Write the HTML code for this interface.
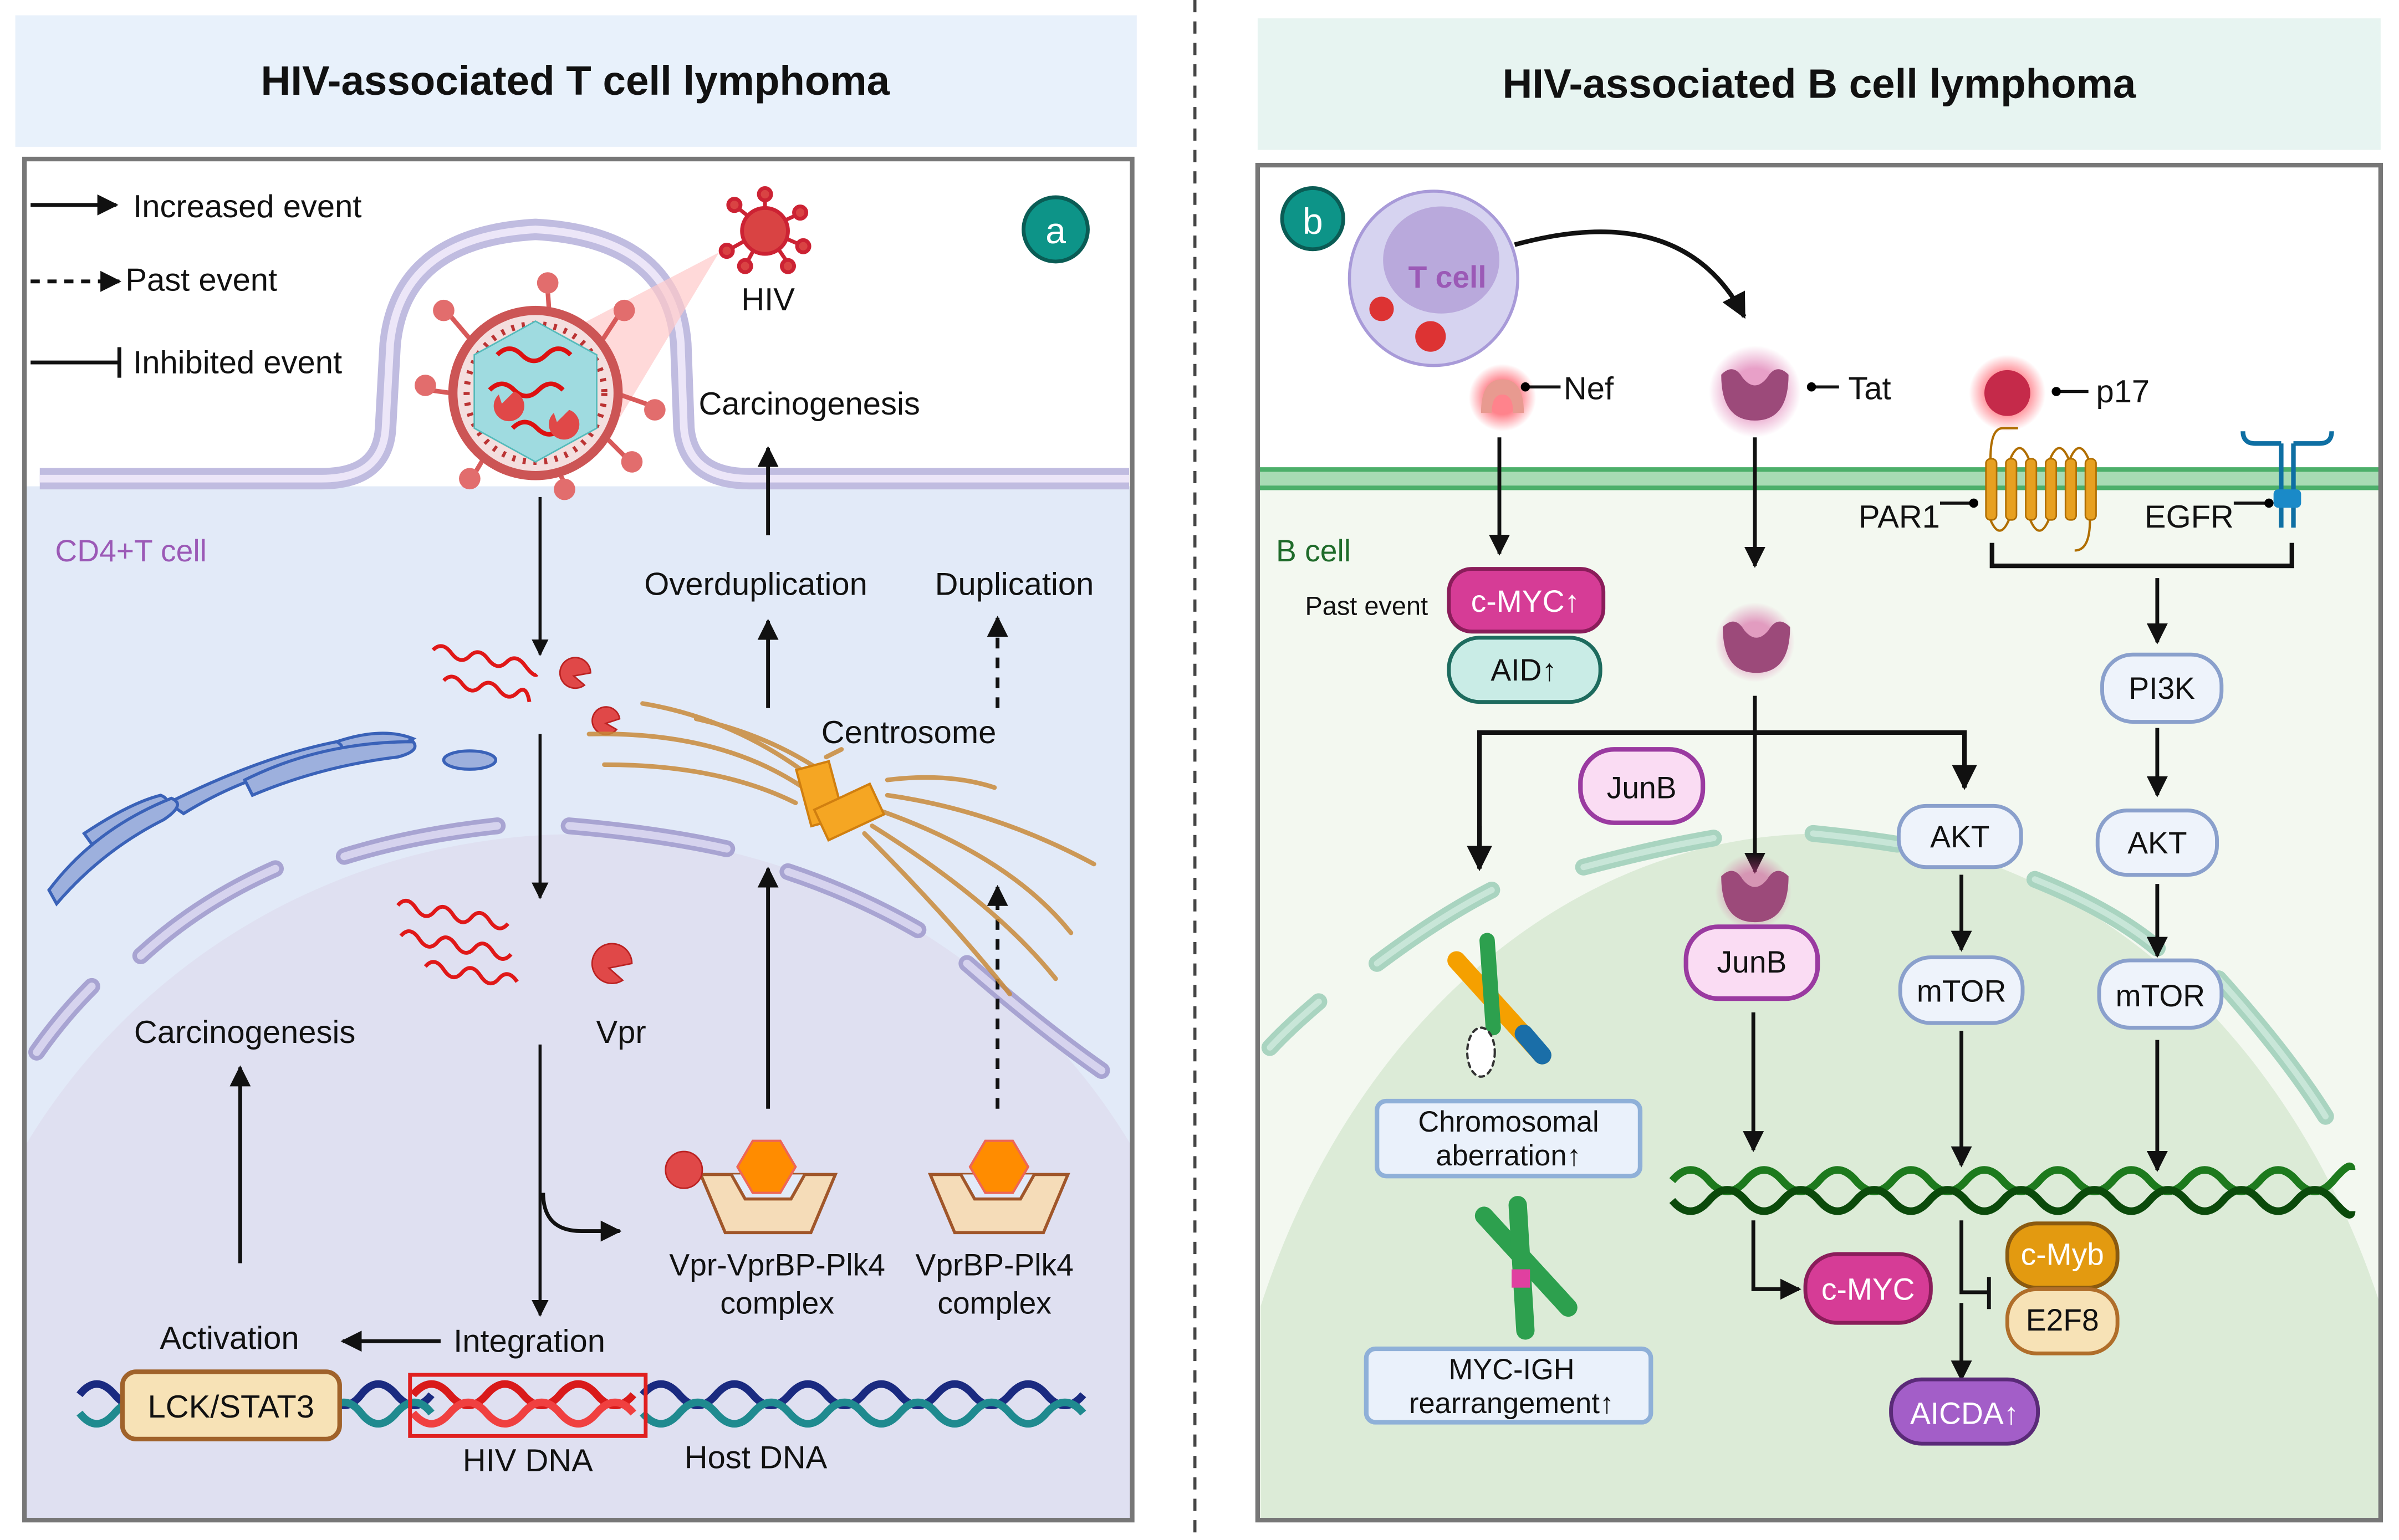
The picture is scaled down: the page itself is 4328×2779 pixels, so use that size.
<!DOCTYPE html>
<html><head><meta charset="utf-8"><style>
html,body{margin:0;padding:0;background:#fff;width:4328px;height:2779px;overflow:hidden}
svg{display:block}
text{font-family:"Liberation Sans",Arial,sans-serif;fill:#111}
</style></head><body>
<svg width="4328" height="2779" viewBox="0 0 1568 1007" preserveAspectRatio="none" xmlns="http://www.w3.org/2000/svg">
<defs>
<marker id="ah" viewBox="0 0 10 10" refX="9" refY="5" markerWidth="5.5" markerHeight="5.5" orient="auto"><path d="M0,0 L10,5 L0,10 z" fill="#111"/></marker>
<radialGradient id="glowR"><stop offset="0.5" stop-color="#ff3040" stop-opacity="0.6"/><stop offset="1" stop-color="#ff3040" stop-opacity="0"/></radialGradient>
<radialGradient id="glowP"><stop offset="0.5" stop-color="#d04090" stop-opacity="0.5"/><stop offset="1" stop-color="#d04090" stop-opacity="0"/></radialGradient>
</defs>

<!-- ================= LEFT PANEL ================= -->
<rect x="10" y="10" width="733" height="86" fill="#e8f1fb"/>
<text x="376" y="62" font-size="27" font-weight="bold" text-anchor="middle">HIV-associated T cell lymphoma</text>

<rect x="16" y="104" width="724" height="890" fill="#fff"/>
<rect x="16" y="318" width="724" height="676" fill="#e2eaf8"/>
<path d="M16,994 L16,750 A420,415 0 0 1 740,750 L740,994 Z" fill="#dfe0f1"/>
<g fill="none" stroke="#a8a4d2" stroke-width="11" stroke-linecap="round">
<path d="M24,688 Q40,665 60,645" /><path d="M92,625 Q130,590 180,568"/>
<path d="M225,560 Q270,546 325,540"/><path d="M372,540 Q430,545 475,555"/>
<path d="M515,570 Q560,585 600,608"/><path d="M632,630 Q680,672 720,700"/>
</g>
<g fill="none" stroke="#d6d3ee" stroke-width="5" stroke-linecap="round">
<path d="M24,688 Q40,665 60,645" /><path d="M92,625 Q130,590 180,568"/>
<path d="M225,560 Q270,546 325,540"/><path d="M372,540 Q430,545 475,555"/>
<path d="M515,570 Q560,585 600,608"/><path d="M632,630 Q680,672 720,700"/>
</g>
<path d="M26,313 L210,313 Q250,313 252,280 L255,225 Q262,155 350,150 Q440,155 445,225 L447,280 Q450,313 490,313 L738,313" fill="none" stroke="#c0bce0" stroke-width="14"/>
<path d="M26,313 L210,313 Q250,313 252,280 L255,225 Q262,155 350,150 Q440,155 445,225 L447,280 Q450,313 490,313 L738,313" fill="none" stroke="#ece6f8" stroke-width="5"/>
<rect x="16" y="104" width="724" height="890" fill="none" stroke="#777" stroke-width="3"/>

<!-- legend -->
<line x1="20" y1="134" x2="76" y2="134" stroke="#111" stroke-width="2.5" marker-end="url(#ah)"/>
<text x="87" y="142" font-size="21">Increased event</text>
<line x1="20" y1="184" x2="78" y2="184" stroke="#111" stroke-width="2.5" stroke-dasharray="6,5" marker-end="url(#ah)"/>
<text x="82" y="190" font-size="21">Past event</text>
<line x1="20" y1="237" x2="78" y2="237" stroke="#111" stroke-width="2.5"/>
<line x1="78" y1="227" x2="78" y2="247" stroke="#111" stroke-width="2.5"/>
<text x="87" y="244" font-size="21">Inhibited event</text>
<circle cx="690" cy="150" r="21" fill="#0d9488" stroke="#0a5c55" stroke-width="2.5"/>
<text x="690" y="159" font-size="24" text-anchor="middle" style="fill:#fff">a</text>

<path d="M355,225 L470,165 L395,290 z" fill="#ffc9c9" opacity="0.7"/>
<g>
<g stroke="#d85a5a" stroke-width="3">
<line x1="358" y1="190" x2="360" y2="220"/><line x1="405" y1="205" x2="392" y2="225"/>
<line x1="425" y1="265" x2="405" y2="258"/><line x1="410" y1="300" x2="395" y2="285"/>
<line x1="370" y1="318" x2="360" y2="298"/><line x1="310" y1="310" x2="322" y2="290"/>
<line x1="280" y1="255" x2="302" y2="258"/><line x1="293" y1="205" x2="310" y2="225"/>
</g>
<g fill="#e26d6d"><circle cx="358" cy="185" r="7"/><circle cx="408" cy="203" r="7"/><circle cx="428" cy="268" r="7"/><circle cx="413" cy="302" r="7"/><circle cx="369" cy="320" r="7"/><circle cx="307" cy="313" r="7"/><circle cx="278" cy="252" r="7"/><circle cx="290" cy="203" r="7"/></g>
<circle cx="350" cy="257" r="57" fill="#c55" />
<circle cx="350" cy="257" r="51" fill="#f4dede"/>
<circle cx="350" cy="257" r="45" fill="none" stroke="#b33" stroke-width="4" stroke-dasharray="2,5"/>
<polygon points="350,210 390,232 390,280 350,302 310,280 310,232" fill="#9fdbe0" stroke="#5bb" stroke-width="1"/>
<path d="M325,232 q8,-8 16,0 t16,0 t16,0 M320,255 q8,-8 16,0 t16,0 t16,0 M335,280 q8,-8 16,0 t16,0" fill="none" stroke="#d11" stroke-width="3"/>
<path d="M326,258 a10,10 0 1 0 10,-2 l-8,8 z" fill="#e04848"/>
<path d="M362,270 a10,10 0 1 0 10,-2 l-8,8 z" fill="#e04848"/>
</g>
<g fill="#d94343" stroke="#c23" stroke-width="2.5">
<line x1="500" y1="150" x2="500" y2="128"/><line x1="500" y1="150" x2="522" y2="140"/><line x1="500" y1="150" x2="523" y2="160"/><line x1="500" y1="150" x2="515" y2="172"/><line x1="500" y1="150" x2="488" y2="172"/><line x1="500" y1="150" x2="477" y2="163"/><line x1="500" y1="150" x2="481" y2="135"/>
<circle cx="500" cy="127" r="4"/><circle cx="523" cy="139" r="4"/><circle cx="525" cy="161" r="4"/><circle cx="515" cy="174" r="4"/><circle cx="487" cy="174" r="4"/><circle cx="475" cy="164" r="4"/><circle cx="480" cy="134" r="4"/>
<circle cx="500" cy="151" r="15"/>
</g>
<text x="502" y="203" font-size="21" text-anchor="middle">HIV</text>
<text x="529" y="271" font-size="21" text-anchor="middle">Carcinogenesis</text>
<text x="36" y="367" font-size="20" style="fill:#9b59b6">CD4+T cell</text>
<text x="494" y="389" font-size="21" text-anchor="middle">Overduplication</text>
<text x="663" y="389" font-size="21" text-anchor="middle">Duplication</text>
<text x="594" y="486" font-size="21" text-anchor="middle">Centrosome</text>

<line x1="502" y1="350" x2="502" y2="293" stroke="#111" stroke-width="2.5" marker-end="url(#ah)"/>
<line x1="502" y1="463" x2="502" y2="406" stroke="#111" stroke-width="2.5" marker-end="url(#ah)"/>
<line x1="652" y1="463" x2="652" y2="404" stroke="#111" stroke-width="2.5" stroke-dasharray="7,6" marker-end="url(#ah)"/>
<line x1="353" y1="325" x2="353" y2="428" stroke="#111" stroke-width="2" marker-end="url(#ah)"/>
<line x1="353" y1="480" x2="353" y2="587" stroke="#111" stroke-width="2" marker-end="url(#ah)"/>
<line x1="353" y1="683" x2="353" y2="860" stroke="#111" stroke-width="2" marker-end="url(#ah)"/>
<path d="M355,780 Q355,805 380,805 L405,805" fill="none" stroke="#111" stroke-width="2.5" marker-end="url(#ah)"/>
<line x1="502" y1="725" x2="502" y2="568" stroke="#111" stroke-width="2.5" marker-end="url(#ah)"/>
<line x1="652" y1="725" x2="652" y2="580" stroke="#111" stroke-width="2.5" stroke-dasharray="7,6" marker-end="url(#ah)"/>
<line x1="157" y1="826" x2="157" y2="698" stroke="#111" stroke-width="2.5" marker-end="url(#ah)"/>
<line x1="288" y1="877" x2="224" y2="877" stroke="#111" stroke-width="2.5" marker-end="url(#ah)"/>

<g fill="none" stroke="#e01818" stroke-width="2.5">
<path d="M283,425 q6,-6 12,2 t12,2 t12,2 t12,2 t12,2 t8,6"/>
<path d="M290,445 q6,-6 12,2 t12,2 t12,2 t12,2 t8,6"/>
<path d="M260,592 q6,-7 12,2 t12,2 t12,2 t12,2 t12,2 t12,2"/>
<path d="M262,612 q6,-7 12,2 t12,2 t12,2 t12,2 t12,2 t12,2"/>
<path d="M278,632 q6,-7 12,2 t12,2 t12,2 t12,2 t12,2"/>
</g>
<g fill="#e04848" stroke="#b22" stroke-width="1">
<path d="M386,440 a10,10 0 1 0 -4,8 l-7,-6 z"/><path d="M405,470 a9,9 0 1 0 -2,7 l-7,-4 z"/>
<path d="M413,630 a13,13 0 1 0 -6,11 l-9,-8 z"/>
</g>
<text x="406" y="682" font-size="21" text-anchor="middle">Vpr</text>
<text x="160" y="682" font-size="21" text-anchor="middle">Carcinogenesis</text>

<g fill="#9db0dd" stroke="#3a62b8" stroke-width="2">
<ellipse cx="307" cy="497" rx="17" ry="6"/>
<path d="M220,485 q30,-10 50,-2 q-20,12 -50,12 z"/>
<path d="M110,525 q60,-30 110,-40 q10,5 -10,12 q-50,10 -90,35 z"/>
<path d="M55,545 q30,-20 50,-25 q10,4 -5,12 q-20,8 -40,20 z"/>
<path d="M32,582 q30,-40 80,-60 q10,4 -5,14 q-40,20 -70,55 z"/>
<path d="M160,510 q50,-25 110,-25 q5,6 -10,10 q-50,6 -95,25 z"/>
</g>

<g fill="none" stroke="#c98a3a" stroke-width="3" stroke-linecap="round" opacity="0.85">
<path d="M420,460 Q480,470 530,508"/><path d="M385,480 Q470,478 525,515"/><path d="M395,500 Q470,500 520,525"/>
<path d="M455,470 Q500,480 535,503"/><path d="M540,495 L550,490"/>
<path d="M580,520 Q650,530 715,565"/><path d="M575,530 Q660,560 700,610"/><path d="M570,540 Q650,590 690,640"/><path d="M565,545 Q620,600 660,650"/>
<path d="M580,510 Q620,505 650,515"/>
</g>
<g fill="#f5a623" stroke="#d07f10" stroke-width="1.5">
<rect x="525" y="500" width="22" height="38" transform="rotate(-15 536 519)"/>
<rect x="535" y="520" width="40" height="22" transform="rotate(-25 555 531)"/>
</g>

<g>
<path d="M458,768 L546,768 L530,806 L474,806 z" fill="#f5dcb8" stroke="#a0562a" stroke-width="2"/>
<path d="M478,768 L487,784 L517,784 L526,768" fill="#e2eaf8" stroke="#a0562a" stroke-width="2"/>
<polygon points="492,746 510,746 520,763 510,780 492,780 482,763" fill="#ff8c00" stroke="#e65" stroke-width="1.5"/>
<circle cx="447" cy="765" r="12" fill="#e04848" stroke="#b22"/>
<path d="M608,768 L698,768 L682,806 L624,806 z" fill="#f5dcb8" stroke="#a0562a" stroke-width="2"/>
<path d="M628,768 L637,784 L667,784 L676,768" fill="#e2eaf8" stroke="#a0562a" stroke-width="2"/>
<polygon points="644,746 662,746 672,763 662,780 644,780 634,763" fill="#ff8c00" stroke="#e65" stroke-width="1.5"/>
</g>
<text x="508" y="834" font-size="20" text-anchor="middle">Vpr-VprBP-Plk4</text>
<text x="508" y="859" font-size="20" text-anchor="middle">complex</text>
<text x="650" y="834" font-size="20" text-anchor="middle">VprBP-Plk4</text>
<text x="650" y="859" font-size="20" text-anchor="middle">complex</text>
<text x="150" y="882" font-size="21" text-anchor="middle">Activation</text>
<text x="346" y="884" font-size="21" text-anchor="middle">Integration</text>

<g fill="none" stroke-width="5">
<path d="M52,912 q11,-14 23,0 t23,0 t23,0 t23,0 t23,0 t23,0 t23,0 t23,0 t23,0 t23,0" stroke="#1a2a80"/>
<path d="M52,924 q11,14 23,0 t23,0 t23,0 t23,0 t23,0 t23,0 t23,0 t23,0 t23,0 t23,0" stroke="#1f8a8f"/>
<path d="M270,912 q12,-14 24,0 t24,0 t24,0 t24,0 t24,0 t24,0" stroke="#d91a1a"/>
<path d="M270,924 q12,14 24,0 t24,0 t24,0 t24,0 t24,0 t24,0" stroke="#f04040"/>
<path d="M420,912 q12,-14 24,0 t24,0 t24,0 t24,0 t24,0 t24,0 t24,0 t24,0 t24,0 t24,0 t24,0 t24,0" stroke="#1a2a80"/>
<path d="M420,924 q12,14 24,0 t24,0 t24,0 t24,0 t24,0 t24,0 t24,0 t24,0 t24,0 t24,0 t24,0 t24,0" stroke="#1f8a8f"/>
</g>
<rect x="268" y="899" width="154" height="40" fill="none" stroke="#e02020" stroke-width="2.5"/>
<rect x="80" y="897" width="142" height="44" rx="9" fill="#f7e2b6" stroke="#a0622a" stroke-width="3"/>
<text x="151" y="927" font-size="21" text-anchor="middle">LCK/STAT3</text>
<text x="345" y="962" font-size="21" text-anchor="middle">HIV DNA</text>
<text x="494" y="960" font-size="21" text-anchor="middle">Host DNA</text>

<line x1="781" y1="0" x2="781" y2="1006" stroke="#444" stroke-width="2" stroke-dasharray="8,6"/>

<!-- ================= RIGHT PANEL ================= -->
<rect x="822" y="12" width="734" height="86" fill="#e7f4f1"/>
<text x="1189" y="64" font-size="27" font-weight="bold" text-anchor="middle">HIV-associated B cell lymphoma</text>
<rect x="822" y="108" width="734" height="886" fill="#fff"/>
<rect x="822" y="318" width="734" height="676" fill="#f3f8f0"/>
<path d="M824,994 L824,854 A395,495 0 0 1 1556,854 L1556,994 Z" fill="#dcebd7"/>
<g fill="none" stroke="#a9d4c0" stroke-width="11" stroke-linecap="round">
<path d="M830,685 Q842,672 862,655"/><path d="M900,630 Q940,600 975,582"/>
<path d="M1035,567 Q1080,555 1120,548"/><path d="M1185,545 Q1215,548 1240,552"/>
<path d="M1330,575 Q1380,595 1410,620"/><path d="M1450,640 Q1495,690 1520,730"/>
</g>
<g fill="none" stroke="#c8e6d8" stroke-width="4" stroke-linecap="round">
<path d="M830,685 Q842,672 862,655"/><path d="M900,630 Q940,600 975,582"/>
<path d="M1035,567 Q1080,555 1120,548"/><path d="M1185,545 Q1215,548 1240,552"/>
<path d="M1330,575 Q1380,595 1410,620"/><path d="M1450,640 Q1495,690 1520,730"/>
</g>
<rect x="822" y="306" width="734" height="14" fill="#a8dbb4"/>
<line x1="822" y1="307" x2="1556" y2="307" stroke="#4caf6a" stroke-width="3"/>
<line x1="822" y1="319" x2="1556" y2="319" stroke="#4caf6a" stroke-width="3"/>
<rect x="822" y="108" width="734" height="886" fill="none" stroke="#777" stroke-width="3"/>

<circle cx="858" cy="143" r="20" fill="#0d9488" stroke="#0a5c55" stroke-width="2.5"/>
<text x="858" y="153" font-size="24" text-anchor="middle" style="fill:#fff">b</text>
<ellipse cx="937" cy="182" rx="55" ry="57" fill="#d6d3f0" stroke="#a89ad8" stroke-width="2"/>
<ellipse cx="942" cy="170" rx="38" ry="35" fill="#b9a9dc"/>
<text x="946" y="188" font-size="20" font-weight="bold" text-anchor="middle" style="fill:#9b59b6">T cell</text>
<circle cx="903" cy="202" r="8" fill="#d33"/><circle cx="935" cy="220" r="10" fill="#d33"/>
<path d="M990,160 Q1100,130 1140,207" fill="none" stroke="#111" stroke-width="3" marker-end="url(#ah)"/>

<circle cx="982" cy="260" r="22" fill="url(#glowR)"/>
<path d="M968,270 q0,-22 14,-22 q14,0 14,22 l-7,0 q0,-12 -7,-12 q-7,0 -7,12 z" fill="#e89a90"/>
<line x1="997" y1="253" x2="1020" y2="253" stroke="#111" stroke-width="2"/><circle cx="997" cy="253" r="3"/>
<text x="1022" y="261" font-size="21">Nef</text>
<circle cx="1147" cy="256" r="30" fill="url(#glowP)"/>
<path d="M1125,245 q0,30 22,30 q22,0 22,-30 q-8,-8 -14,2 q-8,10 -16,0 q-6,-10 -14,-2 z" fill="#9c4a7a"/>
<line x1="1184" y1="253" x2="1202" y2="253" stroke="#111" stroke-width="2"/><circle cx="1184" cy="253" r="3"/>
<text x="1208" y="261" font-size="21">Tat</text>
<circle cx="1312" cy="257" r="25" fill="url(#glowR)"/>
<circle cx="1312" cy="257" r="15" fill="#c52a4a"/>
<line x1="1344" y1="256" x2="1365" y2="256" stroke="#111" stroke-width="2"/><circle cx="1344" cy="256" r="3"/>
<text x="1370" y="263" font-size="21">p17</text>

<g fill="#e7a020" stroke="#b06e00" stroke-width="1">
<rect x="1298" y="300" width="7" height="40" rx="3"/><rect x="1311" y="300" width="7" height="40" rx="3"/><rect x="1324" y="300" width="7" height="40" rx="3"/><rect x="1337" y="300" width="7" height="40" rx="3"/><rect x="1350" y="300" width="7" height="40" rx="3"/><rect x="1363" y="300" width="7" height="40" rx="3"/>
</g>
<path d="M1301,300 q0,-20 8,-20 l10,0 M1314,300 q6,-14 12,0 M1340,300 q6,-14 12,0 M1353,300 q6,-14 12,0 M1301,340 q6,14 12,0 M1327,340 q6,14 12,0 M1366,340 q0,20 -10,20" fill="none" stroke="#b06e00" stroke-width="1.5"/>
<g stroke="#0e6fa3" stroke-width="3" fill="none">
<line x1="1491" y1="290" x2="1491" y2="345"/><line x1="1499" y1="290" x2="1499" y2="345"/>
<path d="M1466,282 q0,8 8,8 l17,0 M1499,290 l17,0 q8,0 8,-8"/>
</g>
<rect x="1486" y="320" width="18" height="12" rx="3" fill="#1a8ac8"/>
<text x="1268" y="345" font-size="21" text-anchor="end">PAR1</text>
<line x1="1268" y1="329" x2="1290" y2="329" stroke="#111" stroke-width="2"/><circle cx="1290" cy="329" r="3"/>
<text x="1460" y="345" font-size="21" text-anchor="end">EGFR</text>
<line x1="1460" y1="329" x2="1483" y2="329" stroke="#111" stroke-width="2"/><circle cx="1483" cy="329" r="3"/>
<path d="M1302,355 L1302,370 L1498,370 L1498,355" fill="none" stroke="#111" stroke-width="3"/>

<text x="834" y="367" font-size="20" style="fill:#1f6b2a">B cell</text>
<text x="853" y="402" font-size="17">Past event</text>
<rect x="947" y="372" width="101" height="41" rx="15" fill="#d63c96" stroke="#8a1d5a" stroke-width="2.5"/>
<text x="997" y="400" font-size="20" text-anchor="middle" style="fill:#fff">c-MYC↑</text>
<rect x="947" y="417" width="99" height="42" rx="20" fill="#c9ece6" stroke="#1d6b5e" stroke-width="2.5"/>
<text x="996" y="445" font-size="20" text-anchor="middle">AID↑</text>

<line x1="980" y1="286" x2="980" y2="362" stroke="#111" stroke-width="2.5" marker-end="url(#ah)"/>
<line x1="1147" y1="286" x2="1147" y2="370" stroke="#111" stroke-width="2.5" marker-end="url(#ah)"/>
<circle cx="1147" cy="420" r="26" fill="url(#glowP)"/>
<path d="M1126,410 q0,30 22,30 q22,0 22,-30 q-8,-8 -14,2 q-8,10 -16,0 q-6,-10 -14,-2 z" fill="#9c4a7a"/>
<line x1="1147" y1="455" x2="1147" y2="570" stroke="#111" stroke-width="2.5" marker-end="url(#ah)"/>
<path d="M967,565 L967,479 L1284,479 L1284,515" fill="none" stroke="#111" stroke-width="3" marker-end="url(#ah)"/>
<line x1="967" y1="540" x2="967" y2="568" stroke="#111" stroke-width="3" marker-end="url(#ah)"/>
<line x1="1410" y1="378" x2="1410" y2="420" stroke="#111" stroke-width="2.5" marker-end="url(#ah)"/>
<line x1="1410" y1="476" x2="1410" y2="520" stroke="#111" stroke-width="2.5" marker-end="url(#ah)"/>
<line x1="1410" y1="578" x2="1410" y2="625" stroke="#111" stroke-width="2.5" marker-end="url(#ah)"/>
<line x1="1410" y1="680" x2="1410" y2="765" stroke="#111" stroke-width="2.5" marker-end="url(#ah)"/>
<line x1="1282" y1="572" x2="1282" y2="621" stroke="#111" stroke-width="2.5" marker-end="url(#ah)"/>
<line x1="1282" y1="674" x2="1282" y2="762" stroke="#111" stroke-width="2.5" marker-end="url(#ah)"/>
<line x1="1146" y1="662" x2="1146" y2="752" stroke="#111" stroke-width="2.5" marker-end="url(#ah)"/>
<path d="M1146,798 L1146,843 L1176,843" fill="none" stroke="#111" stroke-width="2.5" marker-end="url(#ah)"/>
<path d="M1282,798 L1282,845 L1300,845" fill="none" stroke="#111" stroke-width="2.5"/>
<line x1="1300" y1="835" x2="1300" y2="856" stroke="#111" stroke-width="2.5"/>
<line x1="1282" y1="852" x2="1282" y2="902" stroke="#111" stroke-width="2.5" marker-end="url(#ah)"/>

<rect x="1033" y="490" width="80" height="48" rx="22" fill="#fadcf3" stroke="#9a3aa0" stroke-width="3"/>
<text x="1073" y="522" font-size="20" text-anchor="middle">JunB</text>
<circle cx="1146" cy="583" r="25" fill="url(#glowP)"/>
<path d="M1125,573 q0,30 22,30 q22,0 22,-30 q-8,-8 -14,2 q-8,10 -16,0 q-6,-10 -14,-2 z" fill="#9c4a7a"/>
<rect x="1102" y="606" width="86" height="47" rx="21" fill="#fadcf3" stroke="#9a3aa0" stroke-width="3"/>
<text x="1145" y="636" font-size="20" text-anchor="middle">JunB</text>
<g fill="#eef3fb" stroke="#8aa0cc" stroke-width="2.5">
<rect x="1241" y="527" width="80" height="40" rx="18"/>
<rect x="1242" y="626" width="80" height="43" rx="20"/>
<rect x="1374" y="428" width="78" height="44" rx="20"/>
<rect x="1371" y="530" width="78" height="42" rx="19"/>
<rect x="1372" y="628" width="80" height="44" rx="20"/>
</g>
<text x="1281" y="554" font-size="20" text-anchor="middle">AKT</text>
<text x="1282" y="655" font-size="20" text-anchor="middle">mTOR</text>
<text x="1413" y="457" font-size="20" text-anchor="middle">PI3K</text>
<text x="1410" y="558" font-size="20" text-anchor="middle">AKT</text>
<text x="1412" y="658" font-size="20" text-anchor="middle">mTOR</text>

<g fill="none" stroke-width="5">
<path d="M1093,772 q12,-14 24,0 t24,0 t24,0 t24,0 t24,0 t24,0 t24,0 t24,0 t24,0 t24,0 t24,0 t24,0 t24,0 t24,0 t24,0 t24,0 t24,0 t24,0 t12,-7" stroke="#1d7a1d"/>
<path d="M1093,785 q12,14 24,0 t24,0 t24,0 t24,0 t24,0 t24,0 t24,0 t24,0 t24,0 t24,0 t24,0 t24,0 t24,0 t24,0 t24,0 t24,0 t24,0 t24,0 t12,7" stroke="#0b4a0b"/>
</g>

<rect x="1180" y="820" width="82" height="45" rx="21" fill="#d63c96" stroke="#8a1d5a" stroke-width="2.5"/>
<text x="1221" y="850" font-size="20" text-anchor="middle" style="fill:#fff">c-MYC</text>
<rect x="1312" y="800" width="72" height="42" rx="19" fill="#e39a10" stroke="#8a5a10" stroke-width="2.5"/>
<text x="1348" y="827" font-size="20" text-anchor="middle" style="fill:#fff">c-Myb</text>
<rect x="1312" y="843" width="72" height="42" rx="19" fill="#f7e2b6" stroke="#b06e2a" stroke-width="2.5"/>
<text x="1348" y="870" font-size="20" text-anchor="middle">E2F8</text>
<rect x="1236" y="902" width="96" height="42" rx="20" fill="#a35ec8" stroke="#5a2a78" stroke-width="2.5"/>
<text x="1284" y="931" font-size="20" text-anchor="middle" style="fill:#fff">AICDA↑</text>

<g stroke-linecap="round">
<line x1="952" y1="628" x2="1008" y2="690" stroke="#f5a000" stroke-width="12"/>
<line x1="996" y1="676" x2="1008" y2="690" stroke="#1a6ea8" stroke-width="12"/>
<line x1="972" y1="615" x2="976" y2="672" stroke="#2da04e" stroke-width="10"/>
<ellipse cx="968" cy="688" rx="9" ry="16" fill="#fff" stroke="#333" stroke-width="1.5" stroke-dasharray="3,3"/>
<line x1="970" y1="795" x2="1025" y2="855" stroke="#2da04e" stroke-width="12"/>
<line x1="992" y1="788" x2="997" y2="870" stroke="#2da04e" stroke-width="12"/>
<rect x="988" y="830" width="12" height="12" fill="#e040a0"/>
</g>
<rect x="900" y="720" width="172" height="49" rx="6" fill="#eaf1fb" stroke="#8fb0d8" stroke-width="3"/>
<text x="986" y="740" font-size="19" text-anchor="middle">Chromosomal</text>
<text x="986" y="762" font-size="19" text-anchor="middle">aberration↑</text>
<rect x="893" y="882" width="186" height="48" rx="6" fill="#eaf1fb" stroke="#8fb0d8" stroke-width="3"/>
<text x="988" y="902" font-size="19" text-anchor="middle">MYC-IGH</text>
<text x="988" y="924" font-size="19" text-anchor="middle">rearrangement↑</text>
</svg>
</body></html>
